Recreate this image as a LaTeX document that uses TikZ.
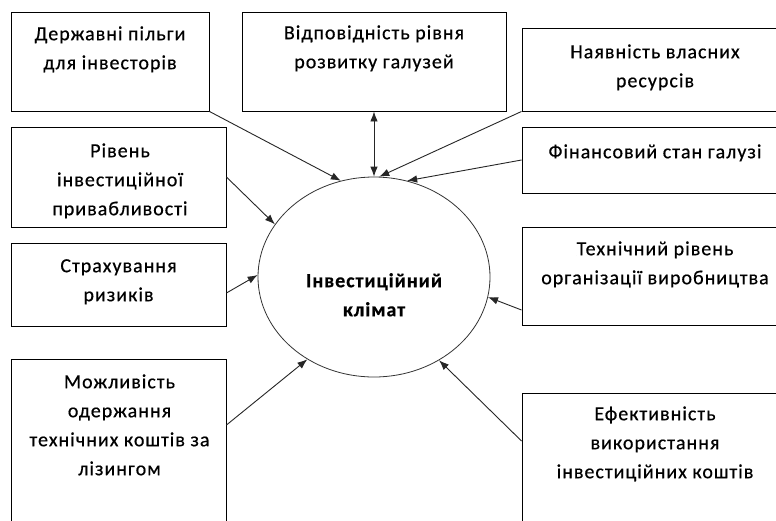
\documentclass[tikz,border=0pt]{standalone}
\usepackage{fontspec}
\setmainfont[LetterSpace=5,FakeBold=0.5]{Carlito}
\usetikzlibrary{arrows.meta,shapes.geometric}
\tikzset{
  box/.style={draw=black, line width=0.9pt, rectangle, inner sep=0pt, fill=none},
  txt/.style={anchor=north, inner sep=0pt, align=center, text=black,
    font=\fontsize{20}{29}\selectfont},
  ctxt/.style={txt, font=\fontsize{20}{29}\selectfont\bfseries},
  ell/.style={draw=black!80, line width=0.8pt, ellipse, inner sep=0pt},
  arr/.style={draw=black!85, line width=0.9pt, -{Latex[length=10pt,width=7.5pt]}},
  darr/.style={draw=black!85, line width=0.9pt, {Latex[length=10pt,width=7.5pt]}-{Latex[length=10pt,width=7.5pt]}}
}
\begin{document}
\begin{tikzpicture}[x=1pt,y=-1pt]
\clip (0,0) rectangle (776,520);
\fill[white] (0,0) rectangle (776,520);
% boxes
\node[box, minimum width=198, minimum height=99] (b1) at (110,61.5) {};
\node[box, minimum width=264, minimum height=99] (b2) at (374,61.5) {};
\node[box, minimum width=268, minimum height=83] (b3) at (656,69.5) {};
\node[box, minimum width=215, minimum height=100] (b4) at (118.5,177) {};
\node[box, minimum width=268, minimum height=66] (b5) at (656,160) {};
\node[box, minimum width=215, minimum height=83] (b6) at (118.5,284.5) {};
\node[box, minimum width=268, minimum height=98] (b7) at (656,276) {};
\node[box, minimum width=215, minimum height=181] (b8) at (118.5,449.5) {};
\node[box, minimum width=268, minimum height=147] (b9) at (656,466.5) {};
\node[ell, minimum width=232, minimum height=200] (c) at (374,277) {};
% texts
\node[txt] (t1) at (110,19.7) {\strut Державні пільги\\для інвесторів};
\node[txt] (t2) at (374,18.7) {\strut Відповідність рівня\\розвитку галузей};
\node[txt] (t3) at (655,37.7) {\strut Наявність власних\\ресурсів};
\node[txt] (t4) at (120,136.7) {\strut Рівень\\інвестиційної\\привабливості};
\node[txt] (t5) at (655,137.7) {\strut Фінансовий стан галузі};
\node[txt] (t6) at (118.5,251.7) {\strut Страхування\\ризиків};
\node[txt] (t7) at (655,234.7) {\strut Технічний рівень\\організації виробництва};
\node[txt] (t8) at (119.5,367.7) {\strut Можливість\\одержання\\технічних коштів за\\лізингом};
\node[txt] (t9) at (655,399.7) {\strut Ефективність\\використання\\інвестиційних коштів};
\node[ctxt] (tc) at (374,266.7) {\strut Інвестиційний\\клімат};
% connectors
\draw[arr] (b1.south east) -- (c.109);
\draw[darr] (b2.south) -- (c.north);
\draw[arr] (b3.south west) -- (c.87);
\draw[arr] (b5.west) -- (c.71);
\draw[arr] (b4.east) -- (c.152.75);
\draw[arr] ([yshift=-8.5pt]b6.east) -- (c.179);
\draw[arr] ([yshift=24.5pt]b8.east) -- (c.231.8);
\draw[arr] ([yshift=-34pt]b7.west) -- (c.350.7);
\draw[arr] ([yshift=25.5pt]b9.west) -- (c.308.3);
\end{tikzpicture}
\end{document}
